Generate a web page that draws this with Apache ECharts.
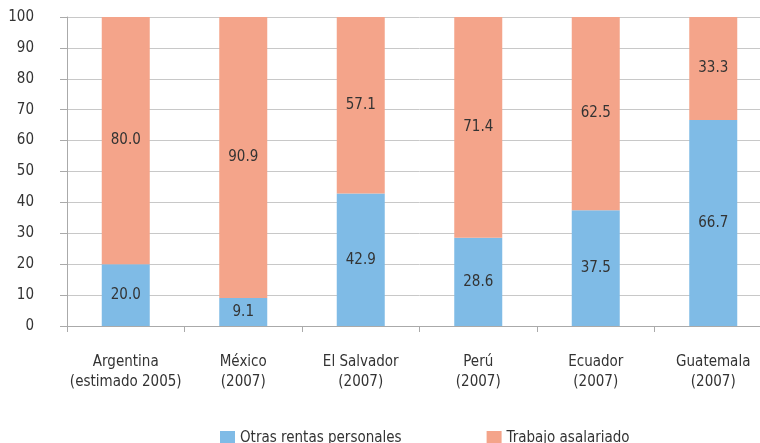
<!DOCTYPE html>
<html><head><meta charset="utf-8">
<script src="https://cdn.jsdelivr.net/npm/echarts@6/dist/echarts.min.js"></script>
<style>html,body{margin:0;padding:0;background:#fff;overflow:hidden;width:760px;height:443px}#c{width:772px;height:443px}</style>
</head><body><div id="c"></div>
<script>
const categories = ["Argentina\n(estimado 2005)", "México\n(2007)", "El Salvador\n(2007)", "Perú\n(2007)", "Ecuador\n(2007)", "Guatemala\n(2007)"];
const otrasRentas = [20.0, 9.1, 42.9, 28.6, 37.5, 66.7];
const trabajoAsalariado = [80.0, 90.9, 57.1, 71.4, 62.5, 33.3];
const yTicks = [0, 10, 20, 30, 40, 50, 60, 70, 80, 90, 100];

const FONT = '"Liberation Sans Narrow", "DejaVu Sans Condensed", "Roboto", sans-serif';
const chart = echarts.init(document.getElementById('c'));
const lbl = {show: true, position: 'inside', color: '#333', fontFamily: FONT, fontSize: 15,
  formatter: p => p.value.toFixed(1)};
chart.setOption({
  animation: false,
  textStyle: {fontFamily: FONT},
  grid: {left: 67, right: 0, top: 17, bottom: 117},
  legend: {
    bottom: -8, left: 215, itemWidth: 15, itemHeight: 15, itemGap: 85, icon: 'rect',
    textStyle: {fontFamily: FONT, fontSize: 15, color: '#333'},
    data: ['Otras rentas personales', 'Trabajo asalariado']
  },
  xAxis: {
    type: 'category', data: categories,
    axisLine: {lineStyle: {color: '#aaa'}},
    axisTick: {show: true, interval: 0, length: 6, lineStyle: {color: '#aaa'}},
    axisLabel: {interval: 0, color: '#333', fontFamily: FONT, fontSize: 15, lineHeight: 20, margin: 26}
  },
  yAxis: {
    type: 'value', min: yTicks[0], max: yTicks[yTicks.length - 1], interval: 10,
    axisLine: {show: true, lineStyle: {color: '#aaa'}},
    axisTick: {show: true, length: 7, lineStyle: {color: '#aaa'}},
    axisLabel: {color: '#333', fontFamily: FONT, fontSize: 15, margin: 33, align: 'right'},
    splitLine: {lineStyle: {color: '#c8c8c8'}}
  },
  series: [
    {name: 'Otras rentas personales', type: 'bar', stack: 'a', data: otrasRentas, barWidth: 48,
     itemStyle: {color: '#7FBBE6'}, label: lbl},
    {name: 'Trabajo asalariado', type: 'bar', stack: 'a', data: trabajoAsalariado, barWidth: 48,
     itemStyle: {color: '#F4A48A'}, label: lbl}
  ]
});
</script></body></html>
